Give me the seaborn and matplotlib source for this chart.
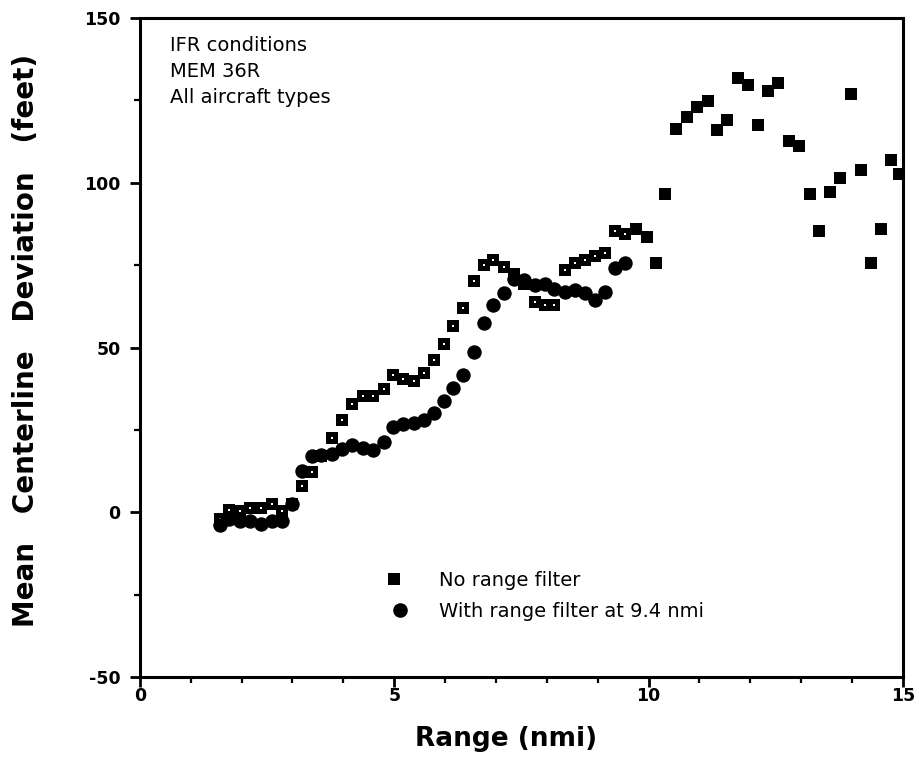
import matplotlib
matplotlib.use("Agg")
import matplotlib.pyplot as plt
from matplotlib.lines import Line2D
from matplotlib.legend_handler import HandlerTuple
from matplotlib.ticker import MultipleLocator
import seaborn as sns
import pandas as pd
import numpy as np

# ---- data ----
range_nofilter = [1.57, 1.76, 1.96, 2.17, 2.38, 2.59, 2.79, 2.99, 3.18, 3.38,
                  3.57, 3.77, 3.97, 4.17, 4.38, 4.59, 4.79, 4.98, 5.18, 5.38,
                  5.58, 5.78, 5.97, 6.16, 6.36, 6.56, 6.76, 6.95, 7.15, 7.36,
                  7.56, 7.76, 7.96, 8.15, 8.35, 8.55, 8.75, 8.95, 9.14, 9.34,
                  9.54, 9.75, 9.96, 10.14, 10.33, 10.54, 10.75, 10.96, 11.16, 11.35,
                  11.54, 11.75, 11.96, 12.16, 12.34, 12.55, 12.76, 12.96, 13.17, 13.35,
                  13.56, 13.76, 13.97, 14.18, 14.38, 14.56, 14.76, 14.93]
dev_nofilter = [-1.9, 0.6, 0.4, 1.4, 1.4, 2.6, 0.3, 2.6, 7.9, 12.3,
                17.0, 22.4, 28.1, 33.0, 35.2, 35.2, 37.3, 41.6, 40.6, 39.9,
                42.3, 46.2, 51.0, 56.5, 62.0, 70.1, 75.0, 76.7, 74.3, 72.4,
                69.4, 63.8, 62.8, 62.8, 73.4, 75.7, 76.5, 77.7, 78.8, 85.4,
                84.6, 86.1, 83.6, 75.7, 96.7, 116.4, 120.0, 123.0, 124.8, 116.0,
                119.0, 131.9, 129.6, 117.5, 127.9, 130.3, 112.6, 111.1, 96.7, 85.4,
                97.2, 101.3, 127.0, 103.8, 75.7, 86.1, 107.0, 102.8]

range_filter = [1.57, 1.76, 1.96, 2.17, 2.38, 2.59, 2.79, 2.99, 3.18, 3.38,
                3.57, 3.77, 3.97, 4.17, 4.38, 4.59, 4.79, 4.98, 5.18, 5.38,
                5.58, 5.78, 5.97, 6.16, 6.36, 6.56, 6.76, 6.95, 7.15, 7.36,
                7.56, 7.76, 7.96, 8.15, 8.35, 8.55, 8.75, 8.95, 9.14, 9.34,
                9.54]
dev_filter = [-4.0, -2.0, -2.5, -2.5, -3.5, -2.5, -2.5, 2.5, 12.5, 17.0,
              17.5, 17.8, 19.3, 20.3, 19.6, 18.8, 21.3, 25.9, 26.9, 27.1,
              27.9, 30.0, 33.8, 37.7, 41.6, 48.7, 57.3, 62.8, 66.4, 70.9,
              70.4, 68.9, 69.4, 67.9, 66.9, 67.4, 66.6, 64.3, 66.9, 74.0,
              75.7]

label_nofilter = "No range filter"
label_filter = "With range filter at 9.4 nmi"
notes = ["IFR conditions", "MEM 36R", "All aircraft types"]
x_ticks = [0, 5, 10, 15]
y_ticks = [-50, 0, 50, 100, 150]

# ---- style ----
sns.set_style("ticks")
plt.rcParams["font.family"] = ["DejaVu Sans"]
for k in ["text.color", "axes.labelcolor", "xtick.color", "ytick.color",
          "axes.edgecolor"]:
    plt.rcParams[k] = "black"

df_nf = pd.DataFrame({"range": range_nofilter, "dev": dev_nofilter})
df_f = pd.DataFrame({"range": range_filter, "dev": dev_filter})
df_dot = df_nf[df_nf["range"] <= max(range_filter)]

fig = plt.figure(figsize=(9.2, 7.67), dpi=100)
ax = fig.add_axes([0.152, 0.1173, 0.8295, 0.8592])

sns.scatterplot(data=df_nf, x="range", y="dev", marker="s", s=80,
                color="black", edgecolor="black", linewidth=0, ax=ax, zorder=3)
sns.scatterplot(data=df_dot, x="range", y="dev", marker="s", s=4.5,
                color="white", edgecolor="white", linewidth=0, ax=ax, zorder=4)
sns.scatterplot(data=df_f, x="range", y="dev", marker="o", s=108,
                color="black", edgecolor="black", linewidth=0, ax=ax, zorder=5)

ax.set_xlim(0, 15)
ax.set_ylim(-50, 150)
ax.set_xticks(x_ticks)
ax.set_yticks(y_ticks)
ax.set_xticklabels([str(t) for t in x_ticks])
ax.set_yticklabels([str(t) for t in y_ticks])
ax.xaxis.set_minor_locator(MultipleLocator(1))
ax.yaxis.set_minor_locator(MultipleLocator(25))
ax.tick_params(which="major", direction="out", length=7, width=2,
               labelsize=12.5)
ax.tick_params(axis="x", which="major", pad=0.5)
ax.tick_params(axis="y", which="major", pad=7)
ax.tick_params(which="minor", direction="out", length=4, width=1.6)
for lab in ax.get_xticklabels() + ax.get_yticklabels():
    lab.set_fontweight("bold")

for sp in ax.spines.values():
    sp.set_visible(True)
    sp.set_linewidth(2.2)
    sp.set_color("black")

ax.set_xlabel("Range (nmi)", fontsize=19, fontweight="bold")
ax.set_ylabel("Mean   Centerline   Deviation   (feet)", fontsize=20,
              fontweight="bold")
ax.xaxis.set_label_coords(0.48, -0.074)
ax.yaxis.set_label_coords(-0.131, 0.511)

ax.text(0.039, 0.972, "\n".join(notes), transform=ax.transAxes,
        fontsize=14, va="top", ha="left", linespacing=1.45)

h_sq = (Line2D([], [], marker="s", ls="none", color="black", markersize=8.9,
               markeredgewidth=0),
        Line2D([], [], marker="s", ls="none", color="white", markersize=2.1,
               markeredgewidth=0))
h_ci = Line2D([], [], marker="o", ls="none", color="black", markersize=10.5,
              markeredgewidth=0)
ax.legend([h_sq, h_ci], [label_nofilter, label_filter],
          handler_map={tuple: HandlerTuple(ndivide=None)},
          loc="upper left", bbox_to_anchor=(0.313, 0.176), frameon=False,
          fontsize=14, handlelength=1.2, handletextpad=1.4, borderpad=0,
          labelspacing=0.62)

fig.savefig("out.png", dpi=100)
